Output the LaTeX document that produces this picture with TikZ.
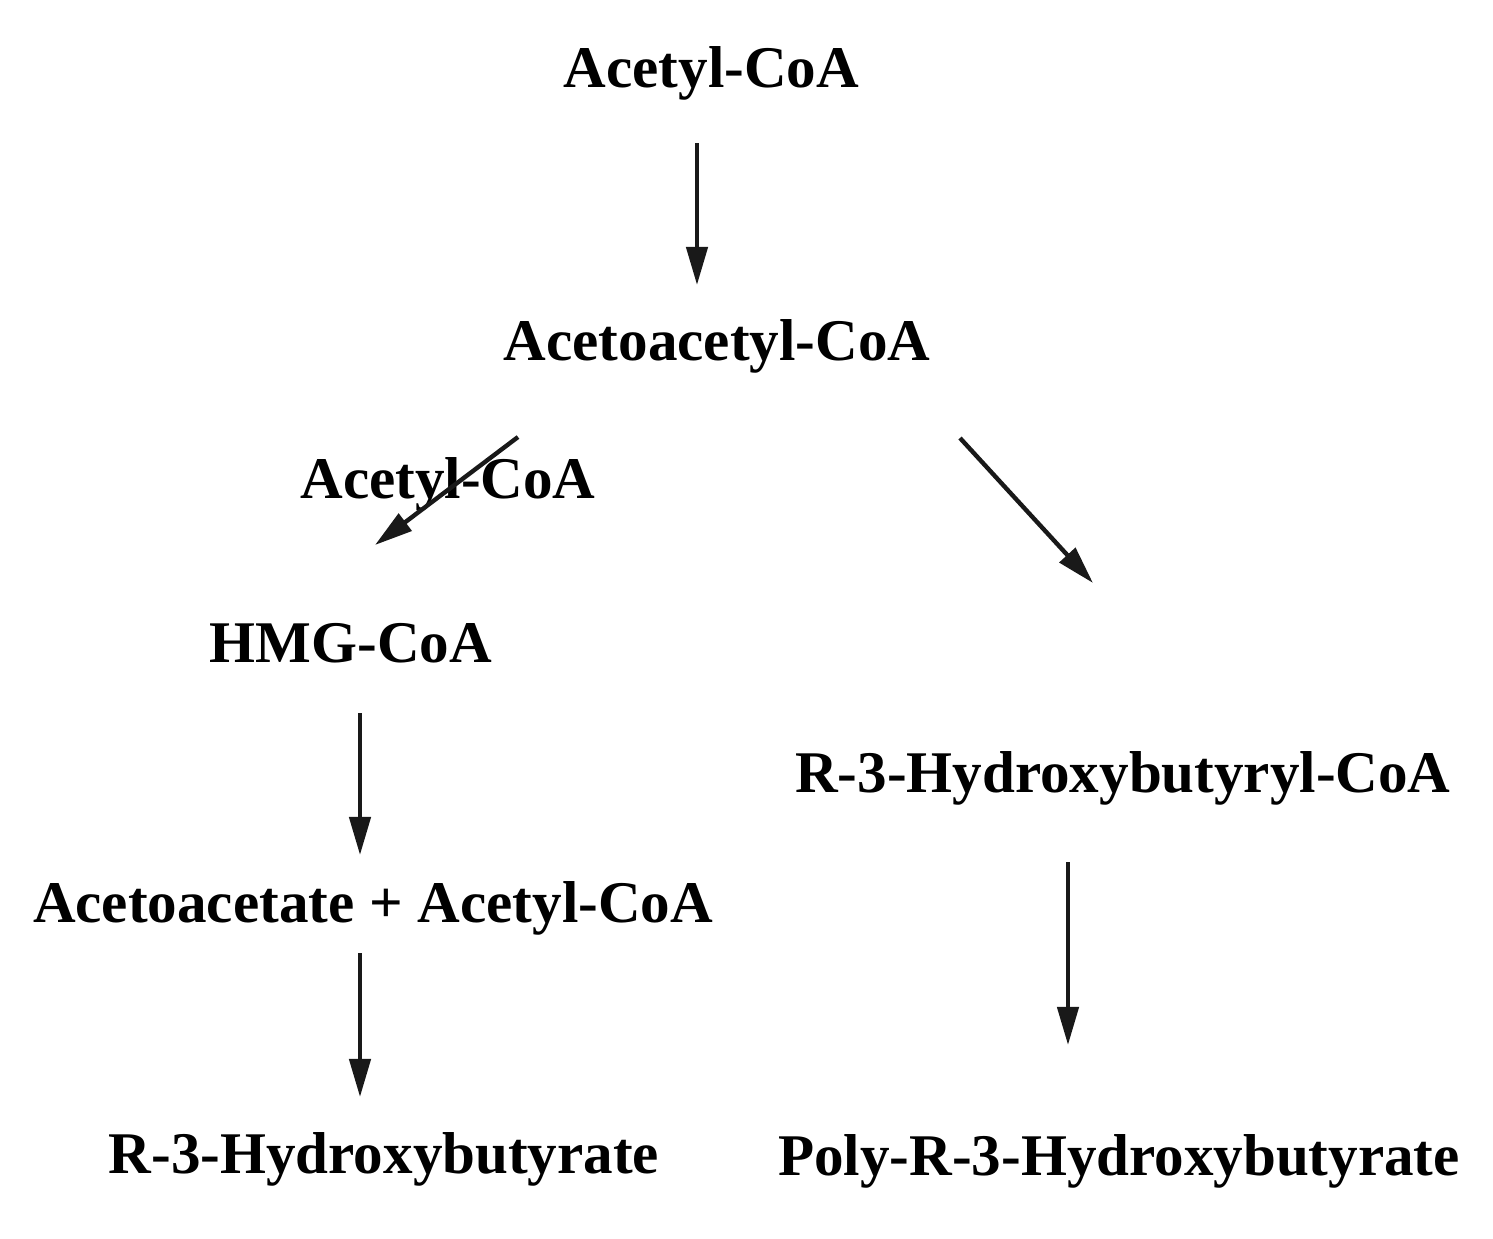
\documentclass[tikz,border=0pt]{standalone}
\usepackage{fontspec}
\setmainfont{Liberation Serif}
\usetikzlibrary{arrows.meta}
\tikzset{
 chem/.style={inner sep=0pt, anchor=base, font=\fontsize{16.8}{20}\selectfont\bfseries},
 rxn/.style={-{Triangle[length=0.38cm,width=0.21cm]}, line width=1.25pt, black!90},
}

\begin{document}
\begin{tikzpicture}[x=0.01cm,y=-0.01cm]
\useasboundingbox (0,0) rectangle (1493,1238);
% metabolites
\node[chem] (acoa)  at (711.5,87)  {Acetyl-CoA};
\node[chem] (aacoa) at (717,360)   {Acetoacetyl-CoA};
\node[chem] (acoab) at (448,498)   {Acetyl-CoA};
\node[chem] (hmg)   at (351,662)   {HMG-CoA};
\node[chem] (hbcoa) at (1123,792)  {R-3-Hydroxybutyryl-CoA};
\node[chem] (aa)    at (373,922)   {Acetoacetate + Acetyl-CoA};
\node[chem] (hb)    at (384,1173)  {R-3-Hydroxybutyrate};
\node[chem] (phb)   at (1119,1175) {Poly-R-3-Hydroxybutyrate};
% reactions
\draw[rxn] ([shift={(-14.5,56)}]acoa.base) -- ([shift={(-20,-75)}]aacoa.base);
\draw[rxn] ([shift={(-199,77)}]aacoa.base) -- ([shift={(24,-117)}]hmg.base);
\draw[rxn] ([shift={(243,78)}]aacoa.base) -- ([shift={(-30,-209)}]hbcoa.base);
\draw[rxn] ([shift={(9,51)}]hmg.base) -- ([shift={(-13,-67)}]aa.base);
\draw[rxn] ([shift={(-13,31)}]aa.base) -- ([shift={(-24,-76)}]hb.base);
\draw[rxn] ([shift={(-55,70)}]hbcoa.base) -- ([shift={(-51,-130)}]phb.base);
\end{tikzpicture}
\end{document}
